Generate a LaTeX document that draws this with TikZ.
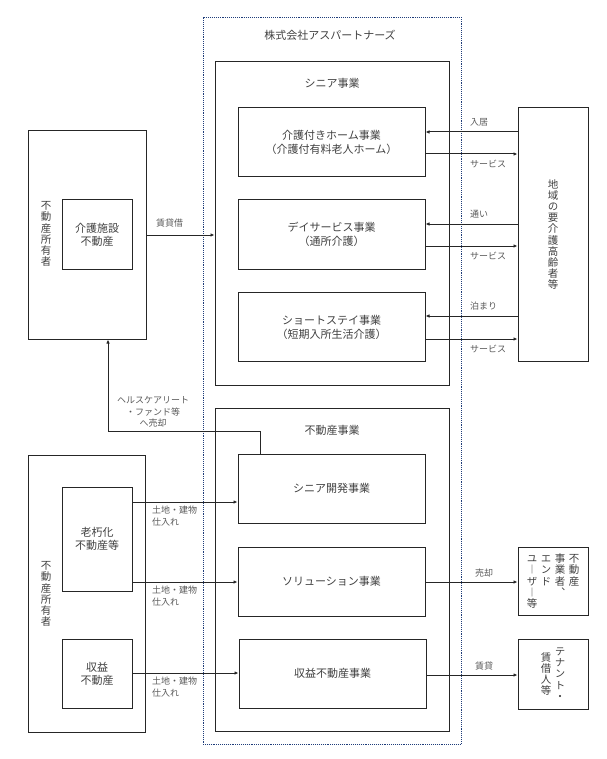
\documentclass[tikz,border=0pt]{standalone}
\usepackage{fontspec}
\setmainfont{Noto Sans CJK JP}
\newfontfamily\tatefont[RawFeature=+vert]{Noto Sans CJK JP}
\usepackage{tikz}
\usetikzlibrary{positioning,calc,arrows.meta}
\definecolor{AspLine}{HTML}{262626}
\definecolor{AspText}{HTML}{404040}
\definecolor{AspLabel}{HTML}{595959}
\definecolor{AspDot}{HTML}{1F3D7A}
\newcommand{\tatecol}[2][t]{\parbox[#1]{1em}{\centering #2}}

\begin{document}
\begin{tikzpicture}[x=1pt,y=-1pt,
    box/.style={draw=AspLine,line width=1pt,text=AspText,align=center,inner sep=0pt,
      font=\fontsize{11}{14}\selectfont},
    sub/.style={box,minimum width=187pt,minimum height=69pt},
    head/.style={text=AspText,inner sep=0pt,font=\fontsize{11}{14}\selectfont},
    tate/.style={text=AspText,inner sep=0pt,align=center,font=\tatefont\fontsize{10.5}{11.2}\selectfont},
    lbl/.style={text=AspLabel,inner sep=0pt,font=\fontsize{9}{12}\selectfont},
    arr/.style={draw=AspLine,line width=1pt,-{Latex[length=4pt,width=3.5pt]}}]
  \useasboundingbox (0,0) rectangle (606,759);

  % Company frame
  \node[draw=AspDot,densely dotted,line width=0.9pt,minimum width=258pt,minimum height=727pt] (asp) at (332,380.5) {};
  \node[head] (asptitle) at (330,35) {株式会社アスパートナーズ};

  % Senior business
  \node[box,minimum width=234pt,minimum height=323pt] (senior) at (332,223.5) {};
  \node[head] (seniortitle) at (332,83) {シニア事業};
  \node[sub] (kaigo) at (331.5,142.5) {介護付きホーム事業\\（介護付有料老人ホーム）};
  \node[sub] (day) at (331.5,234.5) {デイサービス事業\\（通所介護）};
  \node[sub] (short) at (331.5,327) {ショートステイ事業\\（短期入所生活介護）};

  % Real estate business
  \node[box,minimum width=234pt,minimum height=323pt] (realestate) at (332,569.5) {};
  \node[head] (realtitle) at (332,430) {不動産事業};
  \node[sub] (dev) at (331.5,488.5) {シニア開発事業};
  \node[sub] (sol) at (331.5,581.5) {ソリューション事業};
  \node[sub] (income) at (332.5,673.5) {収益不動産事業};

  % Owners on the left
  \node[box,minimum width=118pt,minimum height=208pt] (owner1) at (87,235) {};
  \node[tate] (owner1txt) at (46,234) {不\\動\\産\\所\\有\\者};
  \node[box,minimum width=70pt,minimum height=69pt,font=\fontsize{11}{13}\selectfont] (facility) at (97,234.5) {介護施設\\不動産};
  \node[box,minimum width=117pt,minimum height=277pt] (owner2) at (86.5,593.5) {};
  \node[tate] (owner2txt) at (46,594) {不\\動\\産\\所\\有\\者};
  \node[box,minimum width=70pt,minimum height=104pt,font=\fontsize{11}{13}\selectfont] (aging) at (97,539) {老朽化\\不動産等};
  \node[box,minimum width=70pt,minimum height=69pt,font=\fontsize{11}{13}\selectfont] (incprop) at (97,673.5) {収益\\不動産};

  % Customers on the right
  \node[box,minimum width=70pt,minimum height=253pt,font=\tatefont\fontsize{10.5}{11.2}\selectfont] (region) at (553,234.5)
    {地\\域\\の\\要\\介\\護\\高\\齢\\者\\等};
  \node[box,minimum width=70pt,minimum height=68pt,font=\tatefont\fontsize{10.5}{11.2}\selectfont] (enduser) at (553,581)
    {\tatecol{ユ\\︱\\ザ\\︱\\等}\hspace{3.5pt}\tatecol{エ\\ン\\ド}\hspace{3.5pt}\tatecol{事\\業\\者\\︑}\hspace{3.5pt}\tatecol{不\\動\\産}};
  \node[box,minimum width=70pt,minimum height=70pt,font=\tatefont\fontsize{10.5}{11.2}\selectfont] (tenant) at (553,674)
    {\tatecol[c]{賃\\借\\人\\等}\hspace{3.5pt}\tatecol[c]{テ\\ナ\\ン\\ト\\・}};

  % Senior services
  \foreach \b/\yin/\yout/\tin in {kaigo/132/154/入居, day/224/246/通い, short/316/339/泊まり} {
    \draw[arr] (region.west |- 0,\yin) -- (\b.east |- 0,\yin);
    \draw[arr] (\b.east |- 0,\yout) -- (region.west |- 0,\yout);
    \node[lbl,anchor=west] (in-\b) at (470,\yin-9.5) {\tin};
    \node[lbl,anchor=west] (out-\b) at (470,\yout+10) {サービス};
  }

  % Lease of care facilities
  \draw[arr] (owner1.east |- 0,235) -- (senior.west |- 0,235);
  \node[lbl,anchor=west] (leaselbl) at (156,223) {賃貸借};

  % Sale to healthcare REIT
  \coordinate (salebend) at (108,431);
  \draw[arr] (dev.north -| 260,0) |- (salebend) -- (owner1.south -| salebend);
  \node[lbl,align=center,font=\fontsize{9}{11.5}\selectfont] (salelbl) at (153,412) {ヘルスケアリート\\・ファンド等\\へ売却};

  % Purchases
  \foreach \a/\b/\y in {aging/dev/502, aging/sol/582, incprop/income/673} {
    \draw[arr] (\a.east |- 0,\y) -- (\b.west |- 0,\y);
    \node[lbl,anchor=west,align=left] (buy-\b) at (152,\y+14.5) {土地・建物\\仕入れ};
  }

  % Sales and leasing
  \draw[arr] (sol.east |- 0,582) -- (enduser.west |- 0,582);
  \node[lbl,anchor=west] (selllbl) at (475,573) {売却};
  \draw[arr] (income.east |- 0,675) -- (tenant.west |- 0,675);
  \node[lbl,anchor=west] (rentlbl) at (475,666) {賃貸};
\end{tikzpicture}
\end{document}
